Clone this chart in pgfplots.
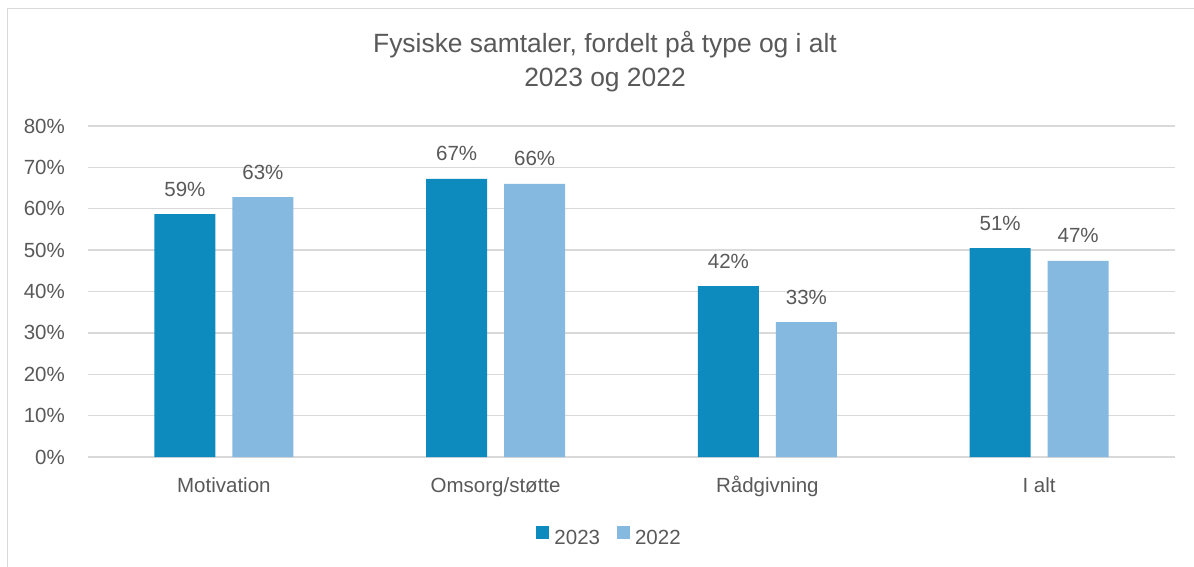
\documentclass[border=0pt]{standalone}
\usepackage{pgfplots}
\pgfplotsset{compat=1.18}
\usepackage{fontspec}
\setmainfont{Liberation Sans}
\definecolor{txt}{HTML}{595959}
\definecolor{gridc}{HTML}{D9D9D9}
\definecolor{c23}{HTML}{0E8BBE}
\definecolor{c22}{HTML}{85B9DF}
\newcommand{\lbl}{\fontsize{20.5bp}{24bp}\selectfont}
\begin{document}
\begin{tikzpicture}
\useasboundingbox (0,0) rectangle (1194bp,567bp);
\fill[white] (0,0) rectangle (1194bp,567bp);
\draw[gridc, line width=1.5bp] (7.5bp,0) -- (7.5bp,558.5bp) -- (1194bp,558.5bp);
\begin{axis}[
  at={(88bp,110bp)}, anchor=south west,
  scale only axis, width=1087bp, height=331bp,
  ybar=17bp, bar width=61bp,
  xmin=-0.5, xmax=3.5, ymin=0, ymax=80,
  xtick={0,1,2,3}, xticklabels={Motivation, Omsorg/støtte, Rådgivning, I alt},
  ytick={0,10,...,80},
  yticklabel={\pgfmathprintnumber{\tick}\%},
  /pgf/number format/assume math mode=true,
  axis line style={draw=none},
  major tick length=0pt,
  tick style={draw=none},
  ymajorgrids, grid style={gridc, line width=1.3bp},
  tick label style={font=\lbl, text=txt, inner sep=0pt},
  yticklabel style={anchor=east, xshift=-23bp},
  xticklabel style={anchor=base, yshift=-35bp},
  point meta=explicit symbolic,
  nodes near coords,
  every node near coord/.append style={font=\lbl, text=txt, anchor=base, inner sep=0pt, yshift=18bp},
  legend columns=2,
  legend style={at={(0.4789,-0.2387)}, anchor=center, draw=none, fill=none, font=\lbl, text=txt, inner sep=0pt, column sep=0pt, nodes={inner sep=0pt},
    /tikz/every odd column/.append style={column sep=5bp},
    /tikz/every even column/.append style={column sep=17bp}},
  legend image code/.code={\fill[#1] (0bp,0bp) rectangle (13bp,13bp);},
  clip=false,
]
\addplot[fill=c23, draw=none] coordinates {(0,58.7) [59\%] (1,67.2) [67\%] (2,41.3) [42\%] (3,50.5) [51\%]};
\addplot[fill=c22, draw=none] coordinates {(0,62.8) [63\%] (1,66.0) [66\%] (2,32.6) [33\%] (3,47.4) [47\%]};
\legend{2023, 2022}
\end{axis}
\node[font=\fontsize{26.4bp}{30bp}\selectfont, text=txt, anchor=base] at (605bp,514bp) {Fysiske samtaler, fordelt på type og i alt};
\node[font=\fontsize{26.4bp}{30bp}\selectfont, text=txt, anchor=base] at (605bp,480bp) {2023 og 2022};
\end{tikzpicture}
\end{document}
